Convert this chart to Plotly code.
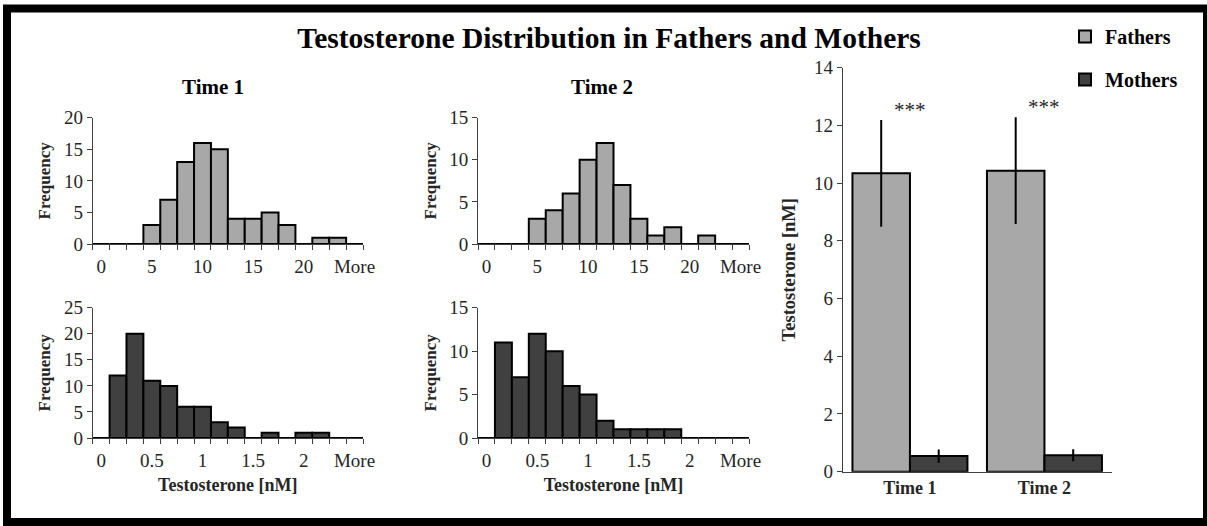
import plotly.graph_objects as go

W, H = 1207, 526
FONT = "Liberation Serif"

# ---------------- data ----------------
fathers_tick_labels = ["0", "5", "10", "15", "20", "More"]
mothers_tick_labels = ["0", "0.5", "1", "1.5", "2", "More"]
label_step = 3  # one label every third bin

fathers_t1_counts = [0, 0, 0, 3, 7, 13, 16, 15, 4, 4, 5, 3, 0, 1, 1, 0]
fathers_t2_counts = [0, 0, 0, 3, 4, 6, 10, 12, 7, 3, 1, 2, 0, 1, 0, 0]
mothers_t1_counts = [0, 12, 20, 11, 10, 6, 6, 3, 2, 0, 1, 0, 1, 1, 0, 0]
mothers_t2_counts = [0, 11, 7, 12, 10, 6, 5, 2, 1, 1, 1, 1, 0, 0, 0, 0]

times = ["Time 1", "Time 2"]
fathers_mean = [10.34, 10.43]
fathers_err = [1.85, 1.85]
mothers_mean = [0.54, 0.57]
mothers_err = [0.23, 0.21]
signif = ["***", "***"]

# ---------------- styles ----------------
LIGHT = "#a8a8a8"
DARK = "#404040"
AXC = "#404040"
TXT = "#262626"


def fx(p):
    return p / W


def fy(p):
    return 1 - p / H


fig = go.Figure()

hists = [
    (fathers_t1_counts, LIGHT, "x", "y"),
    (fathers_t2_counts, LIGHT, "x2", "y2"),
    (mothers_t1_counts, DARK, "x3", "y3"),
    (mothers_t2_counts, DARK, "x4", "y4"),
]
for counts, col, xa, ya in hists:
    fig.add_trace(go.Bar(
        x=list(range(len(counts))), y=counts, width=1,
        marker=dict(color=col, line=dict(color="black", width=2)),
        xaxis=xa, yaxis=ya, showlegend=False, hoverinfo="x+y"))

fig.add_trace(go.Bar(
    name="Fathers", x=times, y=fathers_mean,
    error_y=dict(type="data", array=fathers_err, color="black", thickness=2, width=0),
    marker=dict(color=LIGHT, line=dict(color="black", width=2)),
    xaxis="x5", yaxis="y5", legendgroup="f"))
fig.add_trace(go.Bar(
    name="Mothers", x=times, y=mothers_mean,
    error_y=dict(type="data", array=mothers_err, color="black", thickness=2, width=0),
    marker=dict(color=DARK, line=dict(color="black", width=2)),
    xaxis="x5", yaxis="y5", legendgroup="m"))

tickfont = dict(family=FONT, size=19, color=TXT)
freqfont = dict(family=FONT, size=17, color=TXT, weight="bold")
xtitlefont = dict(family=FONT, size=18, color=TXT, weight="bold")


def hist_xaxis(domain, anchor, labels, nbins, title=None):
    d = dict(
        domain=domain, anchor=anchor, range=[-0.5, nbins - 0.5],
        showline=True, linecolor=AXC, linewidth=1,
        tickmode="array",
        tickvals=[i * label_step for i in range(len(labels))],
        ticktext=labels,
        ticks="outside", ticklen=5, tickcolor="rgba(0,0,0,0)",
        tickfont=tickfont, showgrid=False, zeroline=False,
        minor=dict(tickmode="array", tickvals=[i - 0.5 for i in range(nbins + 1)],
                   ticks="outside", ticklen=5, tickcolor=AXC, tickwidth=1, showgrid=False),
    )
    if title:
        d["title"] = dict(text=title, font=xtitlefont, standoff=8)
    return d


def hist_yaxis(domain, anchor, top):
    return dict(
        domain=domain, anchor=anchor, range=[0, top], dtick=5,
        showline=True, linecolor=AXC, linewidth=1,
        ticks="outside", ticklen=5, tickcolor=AXC,
        tickfont=tickfont, showgrid=False, zeroline=False,
        title=dict(text="Frequency", font=freqfont, standoff=8),
    )


xl = [fx(92.7), fx(363)]
xm = [fx(478), fx(749)]
yt = [fy(244), fy(117.7)]
yb = [fy(438), fy(307.7)]

fig.update_layout(
    width=W, height=H, autosize=False,
    margin=dict(l=0, r=0, t=0, b=0, pad=0, autoexpand=False),
    paper_bgcolor="white", plot_bgcolor="white",
    barmode="group", bargap=0.145, bargroupgap=0,
    font=dict(family=FONT, color=TXT),
    title=dict(text="Testosterone Distribution in Fathers and Mothers",
               x=fx(609), y=fy(38), xanchor="center", yanchor="middle",
               font=dict(family=FONT, size=29.5, color="black", weight="bold")),
    xaxis=hist_xaxis(xl, "y", fathers_tick_labels, len(fathers_t1_counts)),
    yaxis=hist_yaxis(yt, "x", 20),
    xaxis2=hist_xaxis(xm, "y2", fathers_tick_labels, len(fathers_t2_counts)),
    yaxis2=hist_yaxis(yt, "x2", 15),
    xaxis3=hist_xaxis(xl, "y3", mothers_tick_labels, len(mothers_t1_counts), "Testosterone [nM]"),
    yaxis3=hist_yaxis(yb, "x3", 25),
    xaxis4=hist_xaxis(xm, "y4", mothers_tick_labels, len(mothers_t2_counts), "Testosterone [nM]"),
    yaxis4=hist_yaxis(yb, "x4", 15),
    xaxis5=dict(domain=[fx(842.7), fx(1111.7)], anchor="y5",
                showline=True, linecolor=AXC, linewidth=1, ticks="",
                tickfont=dict(family=FONT, size=18, color=TXT, weight="bold"),
                showgrid=False, zeroline=False),
    yaxis5=dict(domain=[fy(471.7), fy(67.7)], anchor="x5", range=[0, 14], dtick=2,
                showline=True, linecolor=AXC, linewidth=1,
                ticks="outside", ticklen=5, tickcolor=AXC,
                tickfont=tickfont, showgrid=False, zeroline=False,
                title=dict(text="Testosterone [nM]",
                           font=dict(family=FONT, size=18.5, color=TXT, weight="bold"), standoff=13)),
    legend=dict(x=fx(1065), y=fy(17), xanchor="left", yanchor="top",
                font=dict(family=FONT, size=20, color="black", weight="bold"),
                traceorder="grouped", tracegroupgap=14, itemwidth=30,
                bgcolor="rgba(0,0,0,0)"),
    showlegend=True,
)

annotations = [
    dict(text="Time 1", x=fx(213), y=fy(87), xref="paper", yref="paper",
         xanchor="center", yanchor="middle", showarrow=False,
         font=dict(family=FONT, size=21, color="black", weight="bold")),
    dict(text="Time 2", x=fx(602), y=fy(87), xref="paper", yref="paper",
         xanchor="center", yanchor="middle", showarrow=False,
         font=dict(family=FONT, size=21, color="black", weight="bold")),
]
for t, m, e, s in zip(times, fathers_mean, fathers_err, signif):
    annotations.append(dict(text=s, x=t, y=m + e, xref="x5", yref="y5",
                            xanchor="center", yanchor="bottom", yshift=-4, showarrow=False,
                            font=dict(family=FONT, size=21, color=TXT)))
fig.update_layout(annotations=annotations)

fig.add_shape(type="rect", xref="paper", yref="paper",
              x0=fx(7), x1=fx(1207), y0=fy(522), y1=fy(8.5),
              line=dict(color="black", width=8), fillcolor="rgba(0,0,0,0)")

fig.write_html(
    "out.html",
    config={"responsive": False, "displayModeBar": False},
    post_script="document.body.style.margin='0';document.body.style.overflow='hidden';",
)
